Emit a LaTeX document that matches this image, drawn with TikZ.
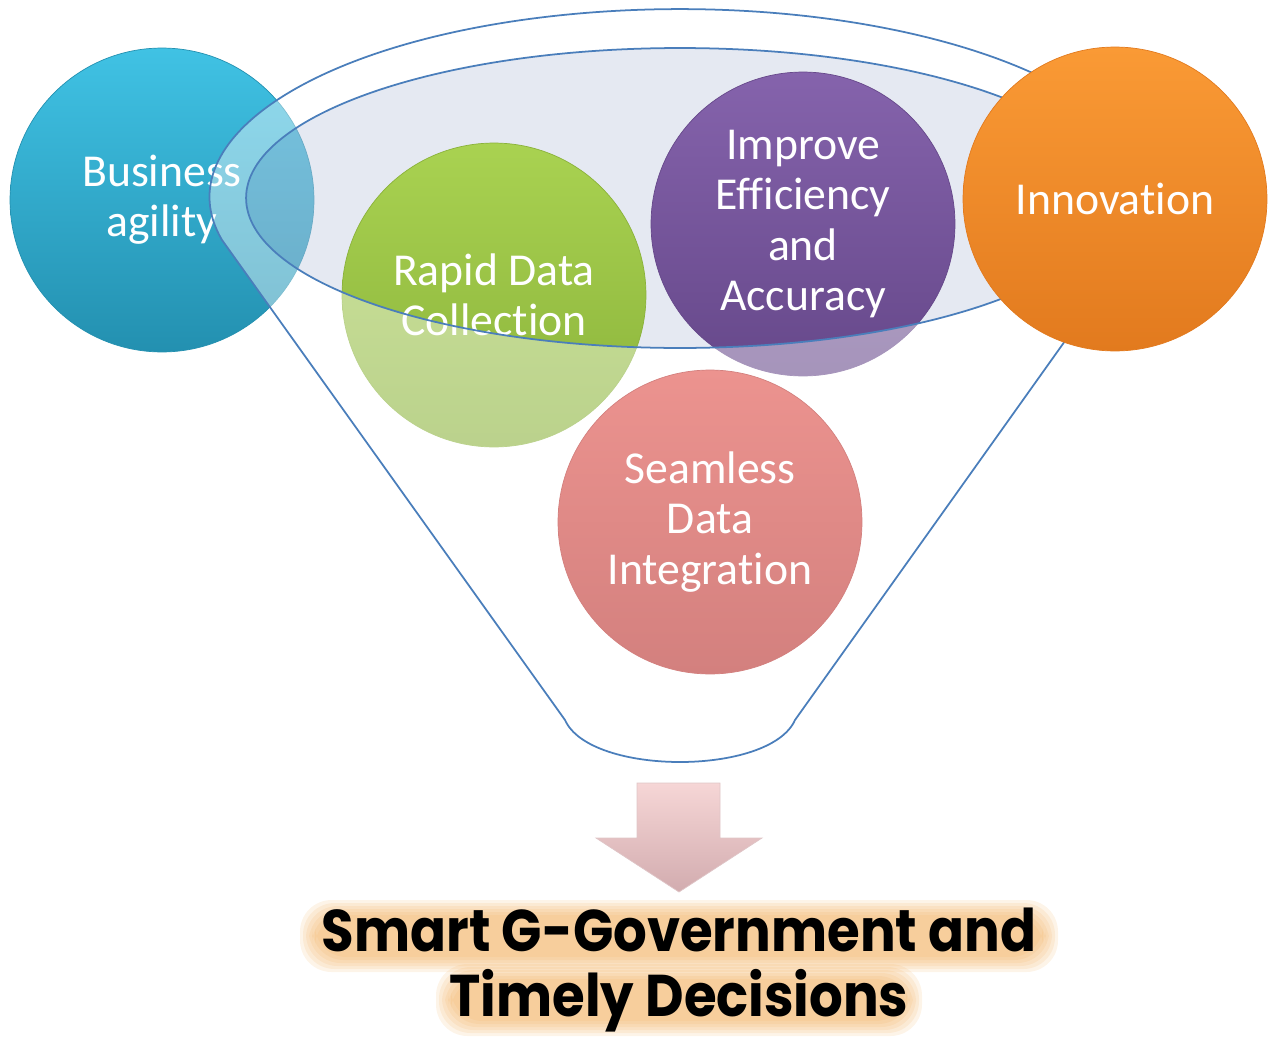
\documentclass[tikz,border=0pt]{standalone}
\usepackage{fontspec}
\setmainfont{Carlito}[Ligatures=NoCommon]
\newfontfamily\gothic[FakeStretch=0.9]{Poppins}
\definecolor{funnelblue}{HTML}{4A7EBB}
\definecolor{mouthgrey}{HTML}{C3CCE1}
\definecolor{agilitytop}{HTML}{40C2E4}
\definecolor{agilitybot}{HTML}{2390B0}
\definecolor{rapidtop}{HTML}{A9D251}
\definecolor{rapidbot}{HTML}{8AB23A}
\definecolor{improvetop}{HTML}{8563AC}
\definecolor{improvebot}{HTML}{66488A}
\definecolor{seamlesstop}{HTML}{EC938F}
\definecolor{seamlessbot}{HTML}{D3807E}
\definecolor{innovtop}{HTML}{FA9A35}
\definecolor{innovbot}{HTML}{E27A1E}
\definecolor{arrowtop}{HTML}{F6D6D6}
\definecolor{arrowbot}{HTML}{D2ACAF}
\definecolor{glow}{HTML}{F0A850}
\begin{document}
\begin{tikzpicture}[x=0.02cm, y=0.02cm,
    bubble/.style={circle, minimum size=6.08cm, inner sep=0pt, align=center,
      text=white, font=\fontsize{26}{28.5}\selectfont},
    funnelline/.style={draw=funnelblue, line width=1pt},
    outcome/.style={align=center, inner sep=0pt, font=\gothic\bfseries\fontsize{33.5}{37}\selectfont}]
  \useasboundingbox (0,0) rectangle (1268,-1038);
  % Business agility sits behind the funnel
  \node[bubble, top color=agilitytop, bottom color=agilitybot, draw=agilitybot] (agility) at (162,-200) {Business\\agility};
  % Mouth of the funnel
  \fill[mouthgrey, opacity=0.43] (680,-198) ellipse [x radius=8.68cm, y radius=3cm];
  \node[bubble, top color=rapidtop, bottom color=rapidbot, draw=rapidbot] (rapid) at (494,-295) {Rapid Data\\Collection};
  \node[bubble, top color=improvetop, bottom color=improvebot, draw=improvebot] (improve) at (803,-224) {Improve\\Efficiency\\and\\Accuracy};
  % Funnel body, see-through
  \fill[white, opacity=0.42, even odd rule] (565,-720) -- (222,-240)
    arc[start angle=193.2, end angle=-13.2, x radius=9.4cm, y radius=3.76cm]
    -- (795,-720) .. controls (770,-776) and (590,-776) .. (565,-720) -- cycle
    (680,-198) ellipse [x radius=8.68cm, y radius=3cm];
  \draw[funnelline] (565,-720) -- (222,-240)
    arc[start angle=193.2, end angle=-13.2, x radius=9.4cm, y radius=3.76cm]
    -- (795,-720) .. controls (770,-776) and (590,-776) .. (565,-720);
  \draw[funnelline] (680,-198) ellipse [x radius=8.68cm, y radius=3cm];
  \node[bubble, top color=seamlesstop, bottom color=seamlessbot, draw=seamlessbot] (seamless) at (710,-522) {Seamless\\Data\\Integration};
  \node[bubble, top color=innovtop, bottom color=innovbot, draw=innovbot] (innovation) at (1115,-199) {Innovation};
  % Arrow down to the outcome
  \shade[top color=arrowtop, bottom color=arrowbot, draw=arrowbot!70!white]
    (637,-783) -- (720,-783) -- (720,-838) -- (762,-838) -- (679,-892)
    -- (596,-838) -- (637,-838) -- cycle;
  % Orange glow behind the outcome
  \foreach \g in {0,3,...,15} {
    \fill[glow, opacity=0.13, rounded corners=18] (300+\g,-900-\g) rectangle (1058-\g,-972+\g);
    \fill[glow, opacity=0.13, rounded corners=18] (436+\g,-964-\g) rectangle (922-\g,-1036+\g);
  }
  \node[outcome] (result) at (679,-970) {Smart G-Government and\\Timely Decisions};
\end{tikzpicture}
\end{document}
